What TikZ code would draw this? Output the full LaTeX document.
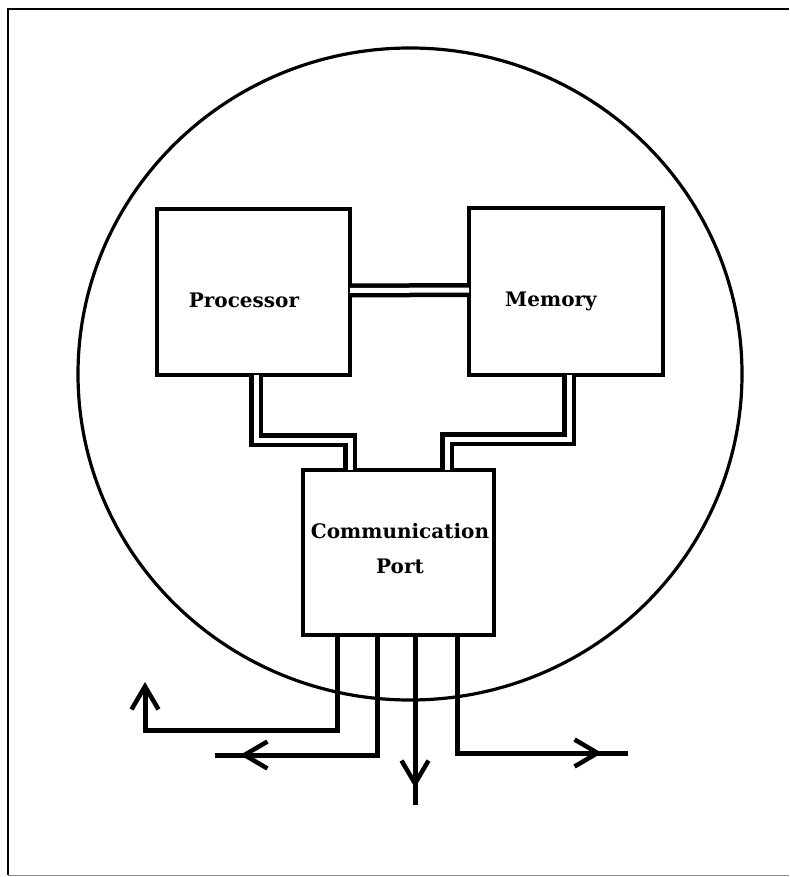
\documentclass[tikz,border=0pt]{standalone}
\usepackage{fontspec}
\newfontfamily\lblfont{DejaVu Serif}
\usetikzlibrary{arrows.meta,calc}
\begin{document}
\begin{tikzpicture}[x=1pt,y=-1pt,
  box/.style={draw,line width=3.2pt,minimum width=#1,inner sep=0pt,outer sep=0pt},
  lbl/.style={font=\lblfont\fontsize{20}{24}\selectfont\bfseries,inner sep=0pt,anchor=base},
  bus/.style={line width=4.5pt,double=white,double distance=5pt,line join=miter},
  wire/.style={line width=5pt,line join=miter},
  tipstyle/.style={line width=5pt,-{Straight Barb[length=23pt,width=27pt,line width=4.5pt]}},
  frame/.style={line width=2.5pt}]
\useasboundingbox (0,0) rectangle (789,877);
% frame
\coordinate (f1) at (8,875);
\coordinate (f2) at (8,9);
\coordinate (f3) at (789,9);
\coordinate (f4) at (789,875);
\draw[frame] (f1) -- (f2) -- (f3);
\draw[line width=1pt,black!45] (f1) -- (f4);
% circle
\draw[line width=3.2pt] (410,374) ellipse [x radius=332, y radius=326];
% boxes
\node[box=193pt,minimum height=166pt] (proc) at (253.5,292) {};
\node[box=194pt,minimum height=167pt] (mem) at (566,291.5) {};
\node[box=191pt,minimum height=165pt] (comm) at (398.5,552.5) {};
\node[lbl] (proclbl) at (244,307) {Processor};
\node[lbl] (memlbl) at (551,306) {Memory};
\node[lbl] (commlbl) at (400,538) {Communication};
\node[lbl] (portlbl) at (400,573) {Port};
% buses
\draw[bus] ([yshift=1.5pt]proc.east) -- ([yshift=1.5pt]mem.west);
\draw[bus] ([xshift=2.5pt]proc.south) -- ++(0,65) -| ([xshift=-48.5pt]comm.north);
\draw[bus] ([xshift=3pt]mem.south) -- ++(0,64) -| ([xshift=48.5pt]comm.north);
% outputs
\coordinate (t1) at (145,682);
\coordinate (e2) at (215,755);
\coordinate (t2) at (240,755);
\coordinate (e3) at (415,805);
\coordinate (t3) at (415,788);
\coordinate (e4) at (628,753);
\coordinate (t4) at (602,753);
\draw[wire] ([xshift=-61.5pt]comm.south) |- (t1 |- 0,730) -- ++(0,-30);
\draw[tipstyle] ($(t1)+(0,20)$) -- (t1);
\draw[wire] ([xshift=-21.5pt]comm.south) |- (e2);
\draw[tipstyle] ($(t2)+(20,0)$) -- (t2);
\draw[wire] ([xshift=16.5pt]comm.south) -- (e3);
\draw[tipstyle] ($(t3)+(0,-20)$) -- (t3);
\draw[wire] ([xshift=58.5pt]comm.south) |- (e4);
\draw[tipstyle] ($(t4)+(-20,0)$) -- (t4);
\end{tikzpicture}
\end{document}
